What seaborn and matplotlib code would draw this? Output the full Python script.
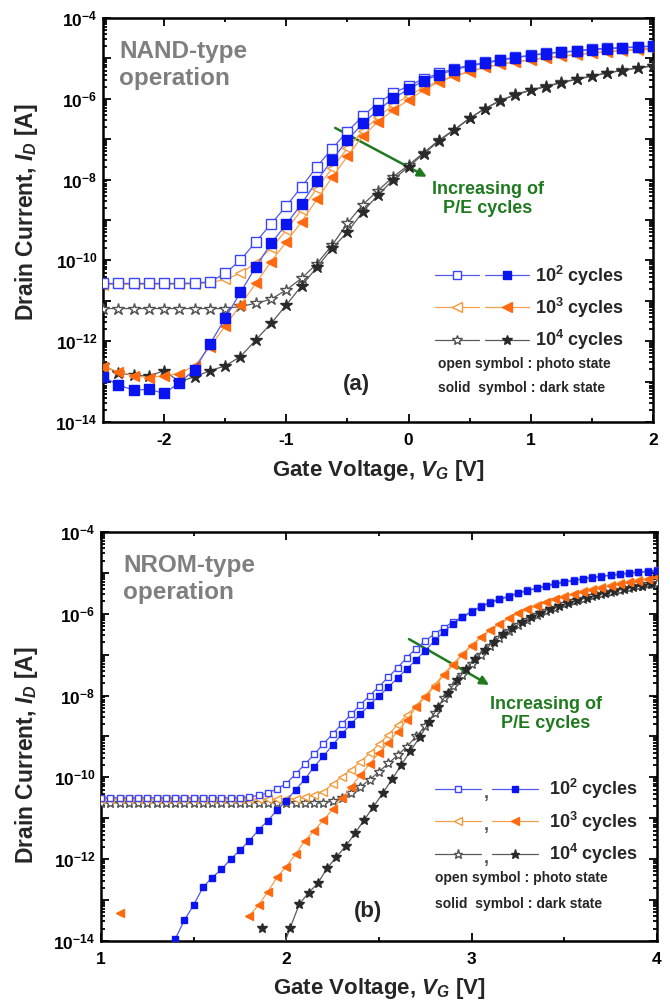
import numpy as np
import matplotlib
matplotlib.use("Agg")
import matplotlib.pyplot as plt
import seaborn as sns
from matplotlib.lines import Line2D
from matplotlib.text import Text
from matplotlib.legend_handler import HandlerBase
from matplotlib.ticker import LogLocator, NullFormatter

# ---------------- data (log10 of drain current in A) ----------------
NAN = float("nan")

VG_A = [-2.5, -2.375, -2.25, -2.125, -2.0, -1.875, -1.75, -1.625, -1.5, -1.375,
        -1.25, -1.125, -1.0, -0.875, -0.75, -0.625, -0.5, -0.375, -0.25, -0.125,
        0.0, 0.125, 0.25, 0.375, 0.5, 0.625, 0.75, 0.875, 1.0, 1.125, 1.25, 1.375,
        1.5, 1.625, 1.75, 1.875, 2.0]

A_C2_PHOTO = [-10.57, -10.57, -10.57, -10.57, -10.57, -10.57, -10.56, -10.53, -10.32, -9.99,
              -9.54, -9.10, -8.65, -8.18, -7.68, -7.23, -6.81, -6.43, -6.10, -5.86,
              -5.68, -5.50, -5.37, -5.25, -5.17, -5.10, -5.03, -4.97, -4.92, -4.87,
              -4.84, -4.81, -4.77, -4.75, -4.73, -4.71, -4.69]
A_C2_DARK = [-12.88, -13.08, -13.21, -13.19, -13.29, -13.03, -12.70, -12.07, -11.43, -10.79,
             -10.16, -9.58, -9.10, -8.60, -8.03, -7.51, -7.02, -6.61, -6.28, -5.99,
             -5.76, -5.55, -5.40, -5.28, -5.19, -5.12, -5.05, -4.98, -4.93, -4.88,
             -4.85, -4.82, -4.78, -4.76, -4.74, -4.72, -4.70]
A_C3_PHOTO = [-10.60, -10.59, -10.59, -10.59, -10.59, -10.59, -10.58, -10.55, -10.47, -10.32,
              -10.06, -9.70, -9.25, -8.75, -8.22, -7.72, -7.22, -6.80, -6.45, -6.15,
              -5.92, -5.72, -5.56, -5.43, -5.32, -5.22, -5.15, -5.09, -5.04, -4.99,
              -4.95, -4.91, -4.87, -4.84, -4.81, -4.79, -4.77]
A_C3_DARK = [-12.63, -12.75, -12.85, -12.90, -12.85, -12.80, -12.61, -12.14, -11.62, -11.10,
             -10.57, -10.03, -9.54, -9.04, -8.49, -7.94, -7.42, -6.92, -6.57, -6.28,
             -6.03, -5.78, -5.58, -5.44, -5.33, -5.22, -5.14, -5.08, -5.03, -4.98,
             -4.94, -4.90, -4.86, -4.83, -4.80, -4.77, -4.75]
A_C4_PHOTO = [-11.19, -11.19, -11.19, -11.19, -11.19, -11.19, -11.19, -11.19, -11.19, -11.14,
              -11.06, -10.96, -10.73, -10.44, -10.08, -9.62, -9.08, -8.62, -8.27, -7.93,
              -7.64, -7.33, -7.02, -6.76, -6.48, -6.24, -6.04, -5.89, -5.78, -5.69,
              -5.59, -5.51, -5.43, -5.36, -5.29, -5.23, -5.18]
A_C4_DARK = [-12.59, -12.79, -12.84, -12.86, -12.73, -13.00, -12.88, -12.73, -12.61, -12.38,
             -11.97, -11.56, -11.10, -10.63, -10.17, -9.70, -9.30, -8.80, -8.38, -8.00,
             -7.68, -7.36, -7.04, -6.77, -6.48, -6.24, -6.05, -5.90, -5.79, -5.70,
             -5.60, -5.52, -5.44, -5.36, -5.30, -5.24, -5.19]

VG_B = [1.00, 1.05, 1.10, 1.15, 1.20, 1.25, 1.30, 1.35, 1.40, 1.45,
        1.50, 1.55, 1.60, 1.65, 1.70, 1.75, 1.80, 1.85, 1.90, 1.95,
        2.00, 2.05, 2.10, 2.15, 2.20, 2.25, 2.30, 2.35, 2.40, 2.45,
        2.50, 2.55, 2.60, 2.65, 2.70, 2.75, 2.80, 2.85, 2.90, 2.95,
        3.00, 3.05, 3.10, 3.15, 3.20, 3.25, 3.30, 3.35, 3.40, 3.45,
        3.50, 3.55, 3.60, 3.65, 3.70, 3.75, 3.80, 3.85, 3.90, 3.95, 4.00]

B_C2_DARK = [NAN, NAN, NAN, NAN, NAN, NAN, NAN, -14.40, -13.96, -13.49,
             -13.12, -12.69, -12.45, -12.25, -12.00, -11.78, -11.55, -11.29, -11.06, -10.80,
             -10.57, -10.30, -10.05, -9.74, -9.48, -9.21, -8.94, -8.69, -8.45, -8.23,
             -8.01, -7.80, -7.57, -7.35, -7.13, -6.90, -6.66, -6.44, -6.25, -6.09,
             -5.95, -5.83, -5.73, -5.65, -5.58, -5.50, -5.44, -5.38, -5.33, -5.27,
             -5.23, -5.19, -5.15, -5.12, -5.09, -5.06, -5.04, -5.01, -4.99, -4.97, -4.95]
B_C2_PHOTO = [-10.50, -10.50, -10.50, -10.50, -10.50, -10.50, -10.50, -10.50, -10.50, -10.50,
              -10.50, -10.50, -10.50, -10.50, -10.50, -10.50, -10.48, -10.44, -10.38, -10.28,
              -10.15, -9.92, -9.68, -9.44, -9.18, -8.94, -8.69, -8.46, -8.22, -8.00,
              -7.78, -7.55, -7.32, -7.07, -6.85, -6.66, -6.49, -6.34, -6.20, -6.07,
              -5.94, -5.82, -5.72, -5.64, -5.57, -5.49, -5.43, -5.37, -5.32, -5.26,
              -5.22, -5.18, -5.14, -5.11, -5.08, -5.05, -5.03, -5.00, -4.98, -4.96, -4.94]
B_C3_DARK = [NAN, NAN, -13.31, NAN, NAN, NAN, NAN, NAN, NAN, NAN,
             NAN, NAN, NAN, NAN, NAN, NAN, -13.39, -13.12, -12.80, -12.44,
             -12.18, -11.88, -11.55, -11.30, -11.05, -10.78, -10.51, -10.23, -9.94, -9.67,
             -9.40, -9.15, -8.88, -8.60, -8.29, -8.03, -7.78, -7.50, -7.25, -7.00,
             -6.78, -6.58, -6.40, -6.25, -6.11, -5.99, -5.89, -5.80, -5.72, -5.65,
             -5.58, -5.52, -5.46, -5.41, -5.36, -5.31, -5.27, -5.23, -5.19, -5.15, -5.11]
B_C3_PHOTO = [-10.53, -10.53, -10.53, -10.53, -10.53, -10.53, -10.53, -10.53, -10.53, -10.53,
              -10.53, -10.53, -10.53, -10.53, -10.53, -10.53, -10.53, -10.53, -10.53, -10.53,
              -10.53, -10.52, -10.49, -10.44, -10.35, -10.16, -9.98, -9.81, -9.62, -9.41,
              -9.18, -8.96, -8.71, -8.48, -8.25, -8.00, -7.74, -7.47, -7.23, -6.99,
              -6.77, -6.57, -6.39, -6.24, -6.10, -5.98, -5.88, -5.79, -5.71, -5.64,
              -5.57, -5.51, -5.45, -5.40, -5.35, -5.30, -5.26, -5.22, -5.18, -5.14, -5.10]
B_C4_PHOTO = [-10.62, -10.62, -10.62, -10.62, -10.62, -10.62, -10.62, -10.62, -10.62, -10.62,
              -10.62, -10.62, -10.62, -10.62, -10.62, -10.62, -10.62, -10.62, -10.62, -10.62,
              -10.62, -10.62, -10.62, -10.62, -10.62, -10.58, -10.51, -10.39, -10.23, -10.06,
              -9.86, -9.66, -9.46, -9.25, -9.00, -8.75, -8.42, -8.07, -7.77, -7.49,
              -7.23, -7.00, -6.78, -6.59, -6.43, -6.28, -6.15, -6.04, -5.94, -5.85,
              -5.77, -5.70, -5.63, -5.57, -5.51, -5.46, -5.41, -5.36, -5.32, -5.28, -5.24]

VG_B4 = [1.87, 1.92, 1.97, 2.02, 2.07, 2.12, 2.17, 2.22, 2.27, 2.32,
         2.37, 2.42, 2.47, 2.52, 2.57, 2.62, 2.67, 2.72, 2.77, 2.82,
         2.87, 2.92, 2.97, 3.02, 3.07, 3.12, 3.17, 3.22, 3.27, 3.32,
         3.37, 3.42, 3.47, 3.52, 3.57, 3.62, 3.67, 3.72, 3.77, 3.82,
         3.87, 3.92, 3.97]
B_C4_DARK = [-13.69, NAN, -14.30, -13.69, -13.10, -12.82, -12.59, -12.22, -11.95, -11.68,
             -11.37, -11.04, -10.72, -10.39, -10.05, -9.70, -9.35, -9.02, -8.65, -8.27,
             -7.93, -7.63, -7.35, -7.10, -6.88, -6.68, -6.50, -6.35, -6.21, -6.09,
             -5.98, -5.89, -5.81, -5.74, -5.67, -5.61, -5.55, -5.49, -5.44, -5.39,
             -5.35, -5.31, -5.27]

Y_TICKS = [1e-14, 1e-13, 1e-12, 1e-11, 1e-10, 1e-9, 1e-8, 1e-7, 1e-6, 1e-5, 1e-4]
Y_TICKLABELS = [r"$10^{-14}$", "", r"$10^{-12}$", "", r"$10^{-10}$", "", r"$10^{-8}$", "",
                r"$10^{-6}$", "", r"$10^{-4}$"]
XA_TICKS = [-2, -1, 0, 1, 2]
XA_TICKLABELS = ["-2", "-1", "0", "1", "2"]
XA_MINOR = [-1.5, -0.5, 0.5, 1.5]
XB_TICKS = [1, 2, 3, 4]
XB_TICKLABELS = ["1", "2", "3", "4"]
XB_MINOR = [1.5, 2.5, 3.5]
LEGEND_LABELS = [r"10$^{2}$ cycles", r"10$^{3}$ cycles", r"10$^{4}$ cycles"]

# ---------------- style ----------------
sns.set_theme(style="ticks")
plt.rcParams["font.family"] = ["Liberation Sans", "DejaVu Sans"]
plt.rcParams["font.weight"] = "bold"
plt.rcParams["mathtext.fontset"] = "custom"
plt.rcParams["mathtext.rm"] = "Liberation Sans:bold"
plt.rcParams["mathtext.it"] = "Liberation Sans:italic:bold"
plt.rcParams["mathtext.bf"] = "Liberation Sans:bold"
plt.rcParams["axes.edgecolor"] = "black"
plt.rcParams["xtick.color"] = "black"
plt.rcParams["ytick.color"] = "black"

BLUE_DARK = "#0a14f0"
BLUE_OPEN = "#3a44ff"
BLUE_LINE = "#5058f0"
OR_DARK = "#ff6a10"
OR_OPEN = "#f39a3c"
OR_LINE = "#f5a050"
ST_DARK = "#2a2a2a"
ST_OPEN = "#505050"
ST_LINE = "#5a5a5a"
GREEN = "#1f7a1f"
GRAY_TXT = "#7f7f7f"


def draw(ax, x, logy, edge, line, marker, ms, filled, z):
    x = np.asarray(x, float)
    y = 10.0 ** np.asarray(logy, float)
    idx = np.flatnonzero(~np.isnan(y))
    runs = np.split(idx, np.where(np.diff(idx) > 1)[0] + 1)
    for r in runs:
        if len(r) == 0:
            continue
        sns.lineplot(x=x[r], y=y[r], ax=ax, color=line, lw=0.9, marker=marker,
                     markersize=ms, markerfacecolor=(edge if filled else "white"),
                     markeredgecolor=edge, markeredgewidth=1.0, sort=False,
                     estimator=None, legend=False, zorder=z)


class PairHandler(HandlerBase):
    def __init__(self, sep=None, gap=0.1):
        super().__init__()
        self.sep = sep
        self.gap = gap

    def create_artists(self, legend, orig_handle, xdescent, ydescent, width,
                       height, fontsize, trans):
        arts = []
        gap = width * self.gap
        seg = (width - gap) / 2.0
        y = (height - ydescent) / 2.0
        for i, h in enumerate(orig_handle):
            x0 = -xdescent + i * (seg + gap)
            arts.append(Line2D([x0, x0 + seg], [y, y], color=h.get_color(),
                               lw=h.get_linewidth(), transform=trans))
            arts.append(Line2D([x0 + seg / 2.0], [y], ls="none", marker=h.get_marker(),
                               ms=h.get_markersize(), mfc=h.get_markerfacecolor(),
                               mec=h.get_markeredgecolor(), mew=1.0, transform=trans))
        if self.sep:
            arts.append(Text(-xdescent + seg + gap / 2.0, y - fontsize * 0.25, self.sep,
                             ha="center", va="center", fontsize=fontsize,
                             fontweight="bold", color="#555555", transform=trans))
        return arts


def proxies(ms):
    return [
        (Line2D([], [], color=BLUE_LINE, lw=0.9, marker="s", ms=ms, mfc="white", mec=BLUE_OPEN),
         Line2D([], [], color=BLUE_LINE, lw=0.9, marker="s", ms=ms, mfc=BLUE_DARK, mec=BLUE_DARK)),
        (Line2D([], [], color=OR_LINE, lw=0.9, marker="<", ms=ms + 1, mfc="white", mec=OR_OPEN),
         Line2D([], [], color=OR_LINE, lw=0.9, marker="<", ms=ms + 1, mfc=OR_DARK, mec=OR_DARK)),
        (Line2D([], [], color=ST_LINE, lw=0.9, marker="*", ms=ms + 2, mfc="white", mec=ST_OPEN),
         Line2D([], [], color=ST_LINE, lw=0.9, marker="*", ms=ms + 2, mfc=ST_DARK, mec=ST_DARK)),
    ]


def style(ax, xlim, xt, xtl, xmin):
    ax.set_yscale("log")
    ax.set_ylim(1e-14, 1e-4)
    ax.set_xlim(*xlim)
    ax.set_yticks(Y_TICKS)
    ax.set_yticklabels(Y_TICKLABELS)
    ax.yaxis.set_minor_locator(LogLocator(base=10, subs=np.arange(2, 10), numticks=100))
    ax.yaxis.set_minor_formatter(NullFormatter())
    ax.set_xticks(xt)
    ax.set_xticklabels(xtl)
    ax.set_xticks(xmin, minor=True)
    ax.tick_params(which="both", direction="in", top=True, right=True, width=1.3)
    ax.tick_params(which="major", length=6, labelsize=12.5)
    ax.tick_params(axis="x", which="major", pad=8)
    ax.tick_params(axis="y", which="major", pad=4)
    ax.tick_params(which="minor", length=3.2)
    for s in ax.spines.values():
        s.set_linewidth(1.8)
        s.set_visible(True)
    ax.set_xlabel(r"Gate Voltage, $V_{G}$ [V]", fontsize=16, fontweight="bold")
    ax.set_ylabel(r"Drain Current, $I_{D}$ [A]", fontsize=16.5, fontweight="bold")


fig = plt.figure(figsize=(6.7, 10.02), dpi=100)
axA = fig.add_axes([0.1537, 0.5788, 0.8209, 0.4032])
axB = fig.add_axes([0.1507, 0.0609, 0.8299, 0.4082])

ARROW = dict(arrowstyle="-|>", color=GREEN, lw=1.8, mutation_scale=13, shrinkA=0, shrinkB=0)

# ---------------- panel (a) ----------------
MA = 6.5
draw(axA, VG_A, A_C4_PHOTO, ST_OPEN, ST_LINE, "*", MA + 2.5, False, 3)
draw(axA, VG_A, A_C4_DARK, ST_DARK, ST_LINE, "*", MA + 2.5, True, 4)
draw(axA, VG_A, A_C3_PHOTO, OR_OPEN, OR_LINE, "<", MA + 1, False, 5)
draw(axA, VG_A, A_C3_DARK, OR_DARK, OR_LINE, "<", MA + 1, True, 6)
draw(axA, VG_A, A_C2_PHOTO, BLUE_OPEN, BLUE_LINE, "s", MA, False, 7)
draw(axA, VG_A, A_C2_DARK, BLUE_DARK, BLUE_LINE, "s", MA, True, 8)
style(axA, (-2.5, 2.0), XA_TICKS, XA_TICKLABELS, XA_MINOR)
axA.xaxis.set_label_coords(0.5, -0.09)
axA.yaxis.set_label_coords(-0.114, 0.52)

axA.text(0.03, 0.945, "NAND-type\noperation", transform=axA.transAxes, ha="left", va="top",
         color=GRAY_TXT, fontsize=17.5, fontweight="bold", linespacing=1.2)
axA.annotate("", xy=(0.149, 10 ** -7.93), xytext=(-0.60, 10 ** -6.72), arrowprops=ARROW)
axA.text(0.65, 10 ** -8.48, "Increasing of\nP/E cycles", ha="center", va="center",
         color=GREEN, fontsize=13, fontweight="bold", linespacing=1.15)
legA = axA.legend(handles=proxies(5.5), labels=LEGEND_LABELS, loc="center left",
                  bbox_to_anchor=(0.604, 0.283), frameon=False, borderpad=0, borderaxespad=0,
                  handlelength=5.2, handletextpad=0.35, labelspacing=0.45,
                  prop={"weight": "bold", "size": 13},
                  handler_map={tuple: PairHandler(sep=None, gap=0.06)})
axA.text(0.609, 0.144, "open symbol : photo state", transform=axA.transAxes, ha="left",
         va="center", fontsize=10, fontweight="bold")
axA.text(0.609, 0.084, "solid  symbol : dark state", transform=axA.transAxes, ha="left",
         va="center", fontsize=10, fontweight="bold")
axA.text(0.46, 0.092, "(a)", transform=axA.transAxes, ha="center", va="center",
         fontsize=16, fontweight="bold")

# ---------------- panel (b) ----------------
MB = 5.0
draw(axB, VG_B, B_C4_PHOTO, ST_OPEN, ST_LINE, "*", MB + 2, False, 3)
draw(axB, VG_B4, B_C4_DARK, ST_DARK, ST_LINE, "*", MB + 2, True, 4)
draw(axB, VG_B, B_C3_PHOTO, OR_OPEN, OR_LINE, "<", MB + 1, False, 5)
draw(axB, VG_B, B_C3_DARK, OR_DARK, OR_LINE, "<", MB + 1, True, 6)
draw(axB, VG_B, B_C2_PHOTO, BLUE_OPEN, BLUE_LINE, "s", MB, False, 7)
draw(axB, VG_B, B_C2_DARK, BLUE_DARK, BLUE_LINE, "s", MB, True, 8)
style(axB, (1.0, 4.0), XB_TICKS, XB_TICKLABELS, XB_MINOR)
axB.xaxis.set_label_coords(0.5, -0.086)
axB.yaxis.set_label_coords(-0.11, 0.455)

axB.text(0.04, 0.945, "NROM-type\noperation", transform=axB.transAxes, ha="left", va="top",
         color=GRAY_TXT, fontsize=17.5, fontweight="bold", linespacing=1.2)
axB.annotate("", xy=(3.094, 10 ** -7.74), xytext=(2.662, 10 ** -6.62), arrowprops=ARROW)
axB.text(3.40, 10 ** -8.45, "Increasing of\nP/E cycles", ha="center", va="center",
         color=GREEN, fontsize=13, fontweight="bold", linespacing=1.15)
legB = axB.legend(handles=proxies(4.5), labels=LEGEND_LABELS, loc="center left",
                  bbox_to_anchor=(0.601, 0.292), frameon=False, borderpad=0, borderaxespad=0,
                  handlelength=5.7, handletextpad=0.6, labelspacing=0.45,
                  prop={"weight": "bold", "size": 13},
                  handler_map={tuple: PairHandler(sep=",", gap=0.1)})
axB.text(0.601, 0.154, "open symbol : photo state", transform=axB.transAxes, ha="left",
         va="center", fontsize=10, fontweight="bold")
axB.text(0.601, 0.091, "solid  symbol : dark state", transform=axB.transAxes, ha="left",
         va="center", fontsize=10, fontweight="bold")
axB.text(0.48, 0.071, "(b)", transform=axB.transAxes, ha="center", va="center",
         fontsize=16, fontweight="bold")

fig.savefig("out.png", dpi=100)
